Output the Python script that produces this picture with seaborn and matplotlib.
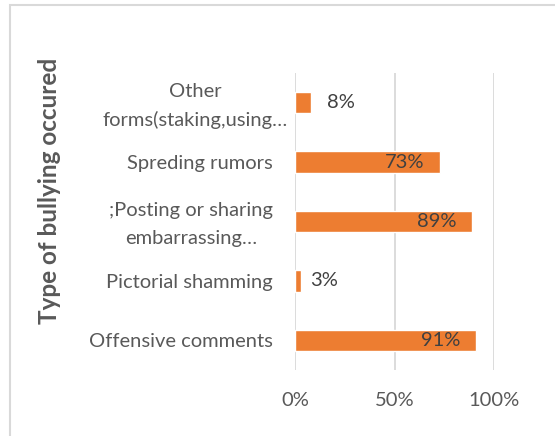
import matplotlib
matplotlib.use("Agg")
import matplotlib.pyplot as plt
import matplotlib.transforms as mtransforms
from matplotlib.patches import Rectangle
import seaborn as sns
import pandas as pd

categories = [
    "Other\nforms(staking,using…",
    "Spreding rumors",
    ";Posting or sharing\nembarrassing…",
    "Pictorial shamming",
    "Offensive comments",
]
values = [0.08, 0.73, 0.89, 0.03, 0.91]
value_labels = ["8%", "73%", "89%", "3%", "91%"]
x_ticks = [0.0, 0.5, 1.0]
x_tick_labels = ["0%", "50%", "100%"]
y_title = "Type of bullying occured"

sns.set_theme(style="white")
plt.rcParams["font.family"] = ["Lato", "DejaVu Sans"]

BAR = "#ED7D31"
GRID = "#D9D9D9"
TXT = "#595959"
FS = 14.5

df = pd.DataFrame({"type": categories, "share": values})

fig = plt.figure(figsize=(5.55, 4.36), dpi=100)
W, H = 555, 436
ax = fig.add_axes([295 / W, 1 - 370 / H, 199 / W, 297 / H])

sns.barplot(data=df, y="type", x="share", order=categories, color=BAR,
            saturation=1, width=0.36, orient="h", ax=ax, zorder=3)

ax.set_xlim(0, 1)
ax.set_xticks(x_ticks)
ax.set_xticklabels(x_tick_labels)
ax.xaxis.grid(True, color=GRID, linewidth=1.3, zorder=0)
ax.yaxis.grid(False)
for s in ax.spines.values():
    s.set_visible(False)
ax.tick_params(axis="both", length=0, labelcolor=TXT, labelsize=FS)
ax.tick_params(axis="x", pad=16)
ax.tick_params(axis="y", pad=16)
for lbl in ax.get_yticklabels():
    lbl.set_multialignment("center")
    lbl.set_linespacing(1.75)
    if "\n" in lbl.get_text():
        # wrapped labels: nudge up a bit; the first one also sits further right
        dx = 15 if lbl.get_text().startswith("Other") else 0
        lbl.set_transform(lbl.get_transform() +
                          mtransforms.ScaledTranslation(dx / 100, 4 / 100,
                                                        fig.dpi_scale_trans))

ax.set_xlabel("")
ax.set_ylabel("")
fig.text(50 / W, 1 - 191 / H, y_title, rotation=90, ha="center", va="center",
         fontsize=17.5, fontweight="bold", color=TXT)

# outside labels for short bars, inside-end labels for long bars
outside_gap = {"8%": 16, "3%": 9}
for i, (v, t) in enumerate(zip(values, value_labels)):
    if v < 0.2:
        ax.annotate(t, (v, i), xytext=(outside_gap[t], 0), textcoords="offset pixels",
                    ha="left", va="center", fontsize=FS, color="#404040", zorder=4)
    else:
        ax.annotate(t, (v, i), xytext=(-16, 0), textcoords="offset pixels",
                    ha="right", va="center", fontsize=FS, color="#404040", zorder=4)

fig.patches.append(Rectangle((10 / W, -0.1), 1.2, 1 - 5 / H + 0.1,
                             transform=fig.transFigure, fill=False,
                             edgecolor=GRID, linewidth=1.5))

fig.savefig("out.png", dpi=100)
